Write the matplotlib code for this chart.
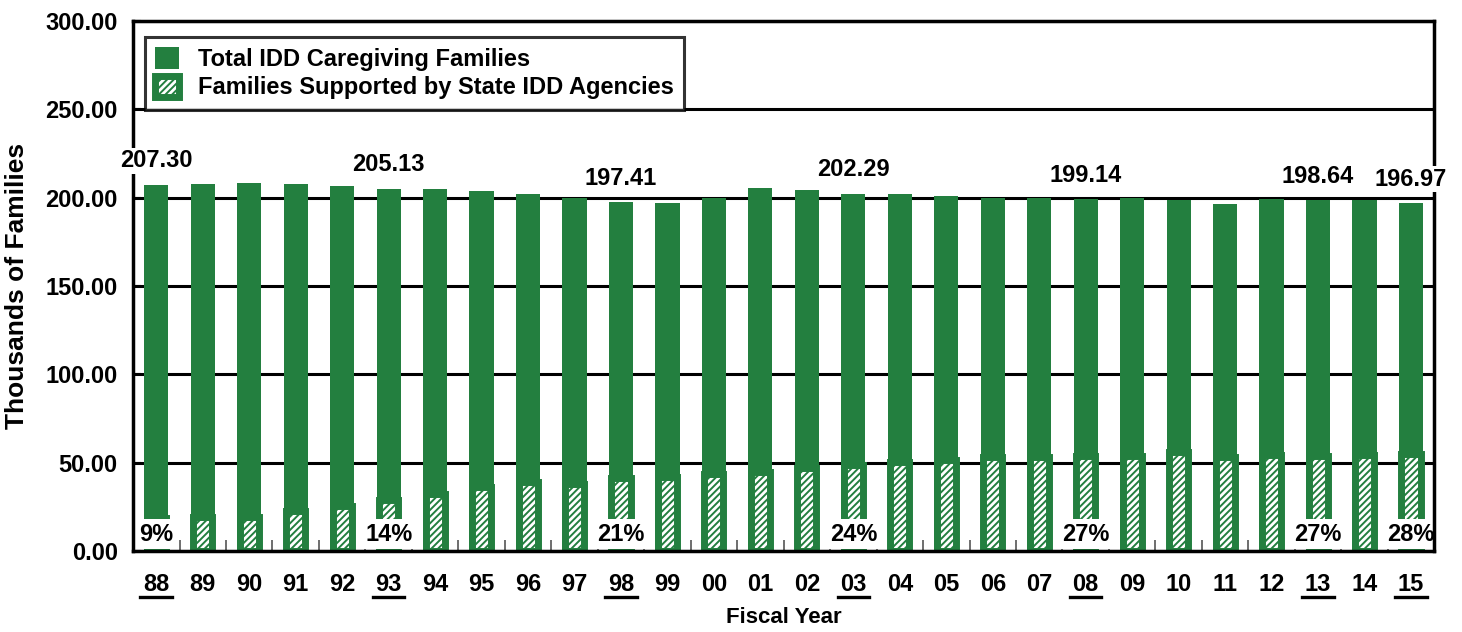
import matplotlib.pyplot as plt
from matplotlib.transforms import blended_transform_factory
import numpy as np

plt.rcParams['font.family'] = ['Liberation Sans', 'DejaVu Sans']
plt.rcParams['font.weight'] = 'bold'
plt.rcParams['hatch.linewidth'] = 1.4

years = ['88', '89', '90', '91', '92', '93', '94', '95', '96', '97',
         '98', '99', '00', '01', '02', '03', '04', '05', '06', '07',
         '08', '09', '10', '11', '12', '13', '14', '15']
total = [207.30, 207.8, 208.2, 207.7, 206.3, 205.13, 205.0, 203.6, 202.3, 199.8,
         197.41, 196.8, 199.6, 205.2, 204.3, 202.29, 202.0, 200.7, 199.8, 199.7,
         199.14, 199.6, 198.5, 196.5, 199.2, 198.64, 198.8, 196.97]
supported = [18.7, 19.5, 19.4, 22.9, 25.7, 28.7, 32.5, 36.0, 39.0, 37.8,
             41.5, 42.0, 43.5, 45.0, 47.2, 48.5, 50.2, 51.5, 53.0, 53.2,
             53.8, 54.0, 55.9, 53.0, 54.5, 53.6, 54.5, 55.2]
labeled = ['88', '93', '98', '03', '08', '13', '15']
pct_labels = {'88': '9%', '93': '14%', '98': '21%', '03': '24%',
              '08': '27%', '13': '27%', '15': '28%'}

green = '#237F3F'
fs = 17

fig = plt.figure(figsize=(14.62, 6.32), dpi=100)
ax = fig.add_axes([0.091, 0.128, 0.890, 0.839])

x = np.arange(len(years))
ax.bar(x, total, width=0.52, color=green, zorder=2,
       label='Total IDD Caregiving Families')
ax.bar(x, supported, width=0.41, facecolor='white', edgecolor=green,
       linewidth=5, hatch='/////', zorder=3,
       label='Families Supported by State IDD Agencies')

# value labels and percent labels
for i, yr in enumerate(years):
    if yr in labeled:
        ax.text(i, total[i] + 7, f'{total[i]:.2f}', ha='center', va='bottom',
                fontsize=fs, fontweight='bold', zorder=9,
                bbox=dict(facecolor='white', edgecolor='none', pad=1))
        ax.text(i, 9.5, pct_labels[yr], ha='center', va='center',
                fontsize=fs, fontweight='bold', zorder=6,
                bbox=dict(facecolor='white', edgecolor='none', pad=2.5))

ax.set_xlim(-0.5, len(years) - 0.5)
ax.set_ylim(0, 300)
ax.set_yticks(np.arange(0, 301, 50))
ax.set_yticklabels([f'{v:.2f}' for v in np.arange(0, 301, 50)],
                   fontsize=fs, fontweight='bold')
ax.yaxis.grid(True, color='black', linewidth=2.2, zorder=1)
ax.set_axisbelow(True)
ax.tick_params(axis='y', direction='in', length=6, width=1.5, pad=11)

ax.set_xticks(x)
ax.set_xticklabels(years, fontsize=fs, fontweight='bold')
ax.tick_params(axis='x', which='major', length=0, pad=16)
ax.set_xticks(x[:-1] + 0.5, minor=True)
ax.tick_params(axis='x', which='minor', direction='in', length=8,
               width=1.2, color='#555555')

# underline selected year labels
trans = blended_transform_factory(ax.transData, ax.transAxes)
for i, yr in enumerate(years):
    if yr in labeled:
        ax.plot([i - 0.34, i + 0.34], [-0.087, -0.087], color='black',
                linewidth=2.4, transform=trans, clip_on=False)

for s in ax.spines.values():
    s.set_linewidth(2.5)
    s.set_color('black')
    s.set_zorder(8)

ax.set_ylabel('Thousands of Families', fontsize=19, fontweight='bold', labelpad=12)
ax.set_xlabel('Fiscal Year', fontsize=16, fontweight='bold', labelpad=8)

leg = ax.legend(loc='upper left', bbox_to_anchor=(0.009, 0.970), borderaxespad=0,
                fontsize=fs, frameon=True, fancybox=False,
                handlelength=1.0, handleheight=1.0,
                borderpad=0.45, labelspacing=0.2, handletextpad=0.8)
leg.get_frame().set_edgecolor('black')
leg.get_frame().set_linewidth(2.2)
leg.set_zorder(7)
for t in leg.get_texts():
    t.set_fontweight('bold')

fig.savefig('out.png', dpi=100)
